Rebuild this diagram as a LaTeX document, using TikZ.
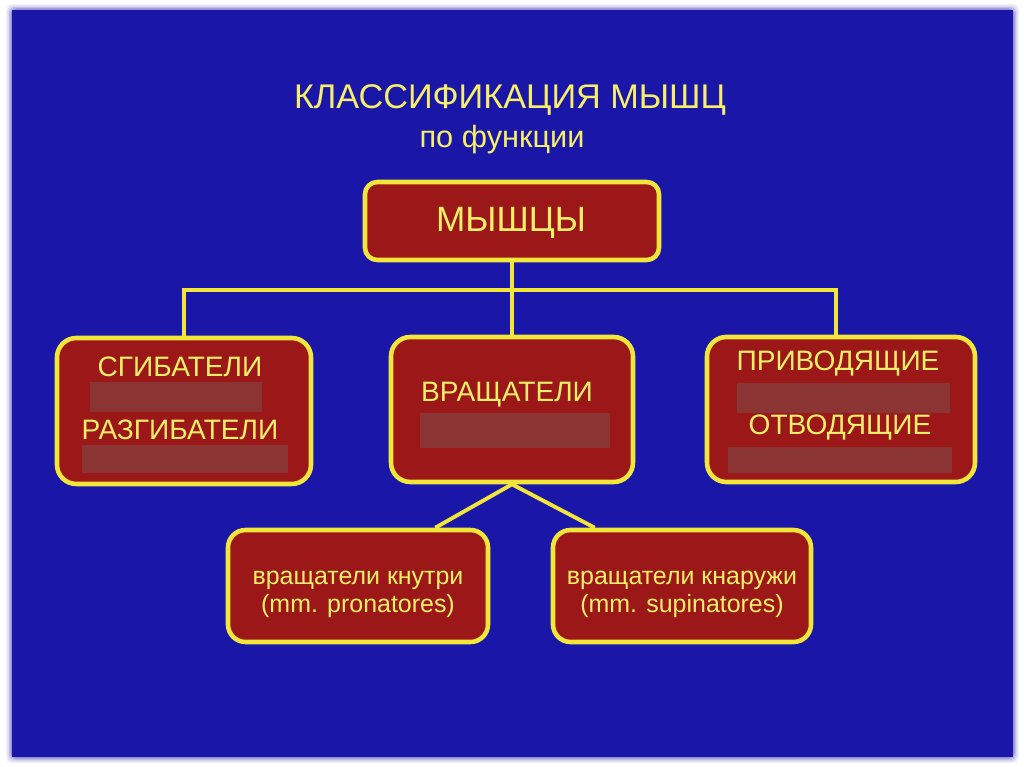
\documentclass[tikz,border=0pt]{standalone}
\usepackage{fontspec}
\setmainfont{Liberation Sans}
\definecolor{bgblue}{HTML}{1A17A8}
\definecolor{boxred}{HTML}{9C1818}
\definecolor{edgey}{HTML}{F2E63A}
\definecolor{texty}{HTML}{F7EE6A}
\definecolor{patch}{HTML}{8A3434}
\tikzset{
  box/.style={draw=edgey, line width=2.6pt, fill=boxred, rounded corners=#1, inner sep=0pt},
  box/.default=10pt,
  link/.style={draw=edgey, line width=2.2pt},
  ytext/.style={text=texty, inner sep=0pt, anchor=center},
  hidden/.style={fill=patch},
}
\begin{document}
\begin{tikzpicture}[x=0.02cm,y=-0.02cm]
\fill[white] (0,0) rectangle (1024,767);
\useasboundingbox (0,0) rectangle (1024,767);
% soft frame shadow
\foreach \d/\o in {6/0.06,4.5/0.1,3/0.15,1.5/0.25}{
  \fill[bgblue,opacity=\o,rounded corners=3pt] (12-\d,10-\d) rectangle (1013+\d,757+\d);
}
\fill[bgblue] (12,10) rectangle (1013,757);

% title
\node[ytext, font=\fontsize{19.5}{23}\selectfont] (title) at (510,100) {КЛАССИФИКАЦИЯ МЫШЦ};
\node[ytext, font=\fontsize{17.5}{21}\selectfont] (sub) at (502,140) {по функции};

% boxes
\node[box=7pt, minimum width=294*0.02cm, minimum height=78*0.02cm] (top) at (512,221) {};
\node[ytext, font=\fontsize{20}{24}\selectfont] (toptext) at (511,223) {МЫШЦЫ};

\node[box=11pt, minimum width=254*0.02cm, minimum height=146*0.02cm] (left) at (184,411) {};
\node[box=11pt, minimum width=242*0.02cm, minimum height=145*0.02cm] (mid) at (512,409.5) {};
\node[box=11pt, minimum width=268*0.02cm, minimum height=145*0.02cm] (right) at (841,409.5) {};
\node[box=10pt, minimum width=260*0.02cm, minimum height=112*0.02cm] (lowl) at (358,586) {};
\node[box=10pt, minimum width=258*0.02cm, minimum height=112*0.02cm] (lowr) at (682,586) {};

% hidden (blurred) lines
\fill[hidden] (90,382) rectangle (262,412);
\fill[hidden] (82,445) rectangle (288,473);
\fill[hidden] (420,413) rectangle (610,448);
\fill[hidden] (737,383) rectangle (950,413);
\fill[hidden] (728,447) rectangle (952,473);

% box texts
\tikzset{bigt/.style={ytext, font=\fontsize{16}{19}\selectfont}}
\node[bigt] (t1) at (180,367) {СГИБАТЕЛИ};
\node[bigt] (t2) at (180,430) {РАЗГИБАТЕЛИ};
\node[bigt] (t3) at (507,395) {ВРАЩАТЕЛИ};
\node[bigt] (t4) at (838,363) {ПРИВОДЯЩИЕ};
\node[bigt] (t5) at (840,427) {ОТВОДЯЩИЕ};
\tikzset{smallt/.style={ytext, align=center, font=\fontsize{14.2}{16}\selectfont}}
\node[smallt] (t6) at (358,594) {вращатели кнутри\\(mm. pronatores)};
\node[smallt] (t7) at (682,594) {вращатели кнаружи\\(mm. supinatores)};

% connectors
\coordinate (j) at (512,290);
\draw[link] (top.south) -- (j);
\draw[link] (left.north) |- (j) -| ([xshift=-0.1cm]right.north);
\draw[link] (j) -- (mid.north);
\draw[link] ([xshift=-1.1cm]lowl.north east) -- (mid.south) -- ([xshift=0.88cm]lowr.north west);
\end{tikzpicture}
\end{document}
